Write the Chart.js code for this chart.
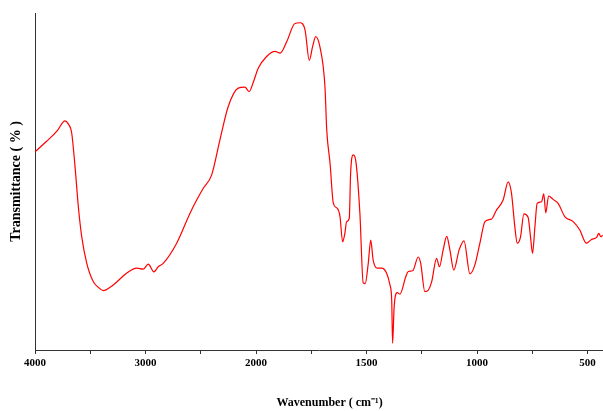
<!DOCTYPE html>
<html>
<head>
<meta charset="utf-8">
<script src="https://cdn.jsdelivr.net/npm/chart.js@4/dist/chart.umd.min.js"></script>
<style>
  html, body { margin: 0; padding: 0; background: #fff; }
  #wrap { width: 603px; height: 411px; }
</style>
</head>
<body>
<div id="wrap"><canvas id="ftir"></canvas></div>
<script>
// FTIR spectrum, values
const wavenumbers = [
  4000, 3900, 3800, 3744, 3729, 3699, 3668, 3638, 3608, 3578, 3532, 3473, 3430, 3382, 3292, 3171, 3080, 3020,
  2975, 2924, 2885, 2840, 2718, 2597, 2537, 2477, 2402, 2327, 2252, 2161, 2101, 2062, 2026,
  1990, 1952, 1914, 1891, 1861, 1824, 1801, 1778, 1759, 1744, 1730, 1711, 1688, 1680, 1665,
  1650, 1632, 1620, 1608, 1598, 1590, 1578, 1572, 1560, 1548, 1530, 1515, 1506, 1492, 1481,
  1470, 1451, 1432, 1409, 1394, 1386, 1382, 1375, 1361, 1349, 1322, 1311, 1291, 1266, 1255,
  1236, 1220, 1205, 1183, 1170, 1153, 1137, 1123, 1105, 1081, 1059, 1032, 1010, 987, 964,
  934, 912, 882, 859, 844, 829, 818, 803, 788, 769, 758, 749, 738, 728, 708,
  698, 689, 676, 656, 633, 603, 565, 535, 505, 482, 459, 449, 440, 432
];
const transmittance = [
  58.8, 61.8, 65.0, 67.7, 68.0, 67.1, 64.4, 54.5, 42.6, 33.8, 25.8, 20.3, 18.7, 17.6, 19.3, 22.8, 24.3, 24.0,
  25.5, 23.2, 24.7, 25.7, 31.7, 40.6, 44.5, 48.0, 51.9, 62.3, 72.2, 77.7, 78.0, 76.7, 79.3,
  83.6, 87.1, 88.6, 88.1, 91.5, 96.9, 97.1, 94.9, 86.0, 90.0, 93.0, 90.0, 78.1, 65.3, 55.4,
  43.5, 42.0, 39.6, 32.1, 34.6, 38.1, 39.1, 52.4, 57.9, 55.9, 40.6, 19.9, 19.7, 25.8, 32.6,
  26.7, 24.3, 24.3, 22.8, 19.3, 14.8, 2.0, 12.8, 17.0, 16.6, 21.8, 23.3, 23.5, 27.6, 25.8,
  17.3, 17.8, 20.3, 27.2, 24.7, 29.8, 33.7, 29.8, 23.7, 29.7, 32.4, 22.6, 25.2, 31.7, 38.1,
  38.9, 41.5, 44.5, 49.9, 46.5, 36.6, 31.7, 33.6, 40.4, 39.4, 33.6, 28.7, 36.6, 43.5, 44.0,
  46.3, 40.7, 45.7, 44.7, 43.5, 39.6, 38.1, 35.6, 31.7, 32.8, 33.4, 34.6, 33.6, 34.1
];
const tickValues = [4000, 3500, 3000, 2500, 2000, 1750, 1500, 1250, 1000, 750, 500];
const tickLabels = [4000, 3000, 2000, 1500, 1000, 500];
const xMinWn = 430;

// axis is compressed above 2000 cm-1 (half scale), like the instrument plot
const toAxis = (wn) => (wn >= 2000 ? wn : 2000 - (2000 - wn) * 2);
const fromAxis = (u) => (u >= 2000 ? u : 2000 - (2000 - u) / 2);

const points = wavenumbers.map((w, i) => ({ x: toAxis(w), y: transmittance[i] }));

const serif = "'Liberation Serif', 'Times New Roman', serif";

new Chart(document.getElementById("ftir"), {
  type: "line",
  data: {
    datasets: [{
      data: points,
      borderColor: "#ff0000",
      borderWidth: 1.2,
      pointRadius: 0,
      cubicInterpolationMode: "monotone",
      fill: false
    }]
  },
  options: {
    responsive: true,
    maintainAspectRatio: false,
    animation: false,
    layout: { padding: { top: 13, right: 0, bottom: 0, left: 0 } },
    plugins: { legend: { display: false }, tooltip: { enabled: false } },
    scales: {
      x: {
        type: "linear",
        reverse: true,
        min: toAxis(xMinWn),
        max: 4000,
        afterBuildTicks: (scale) => {
          scale.ticks = tickValues.map((w) => ({ value: toAxis(w) }));
        },
        afterFit: (scale) => { scale.height = 61; },
        ticks: {
          autoSkip: false,
          maxRotation: 0,
          padding: 3,
          color: "#000",
          font: { family: serif, weight: "bold", size: 11 },
          callback: (value) => {
            const w = Math.round(fromAxis(value));
            return tickLabels.includes(w) ? String(w) : "";
          }
        },
        grid: { drawOnChartArea: false, drawTicks: true, tickLength: 4, color: "#333" },
        border: { display: true, color: "#333", width: 1 },
        title: {
          display: true,
          // leading spaces nudge the title right, as in the original
          text: "       Wavenumber ( cm\u207B\u00B9)",
          color: "#000",
          font: { family: serif, weight: "bold", size: 12 },
          padding: { top: 0, bottom: 1 }
        }
      },
      y: {
        min: 0,
        max: 100,
        afterFit: (scale) => { scale.width = 35; },
        ticks: { display: false },
        grid: { drawOnChartArea: false, drawTicks: false },
        border: { display: true, color: "#333", width: 1 },
        title: {
          display: true,
          text: "Transmittance ( % )",
          color: "#000",
          font: { family: serif, weight: "bold", size: 14 },
          padding: { top: 8, bottom: 0 }
        }
      }
    }
  }
});
</script>
</body>
</html>
